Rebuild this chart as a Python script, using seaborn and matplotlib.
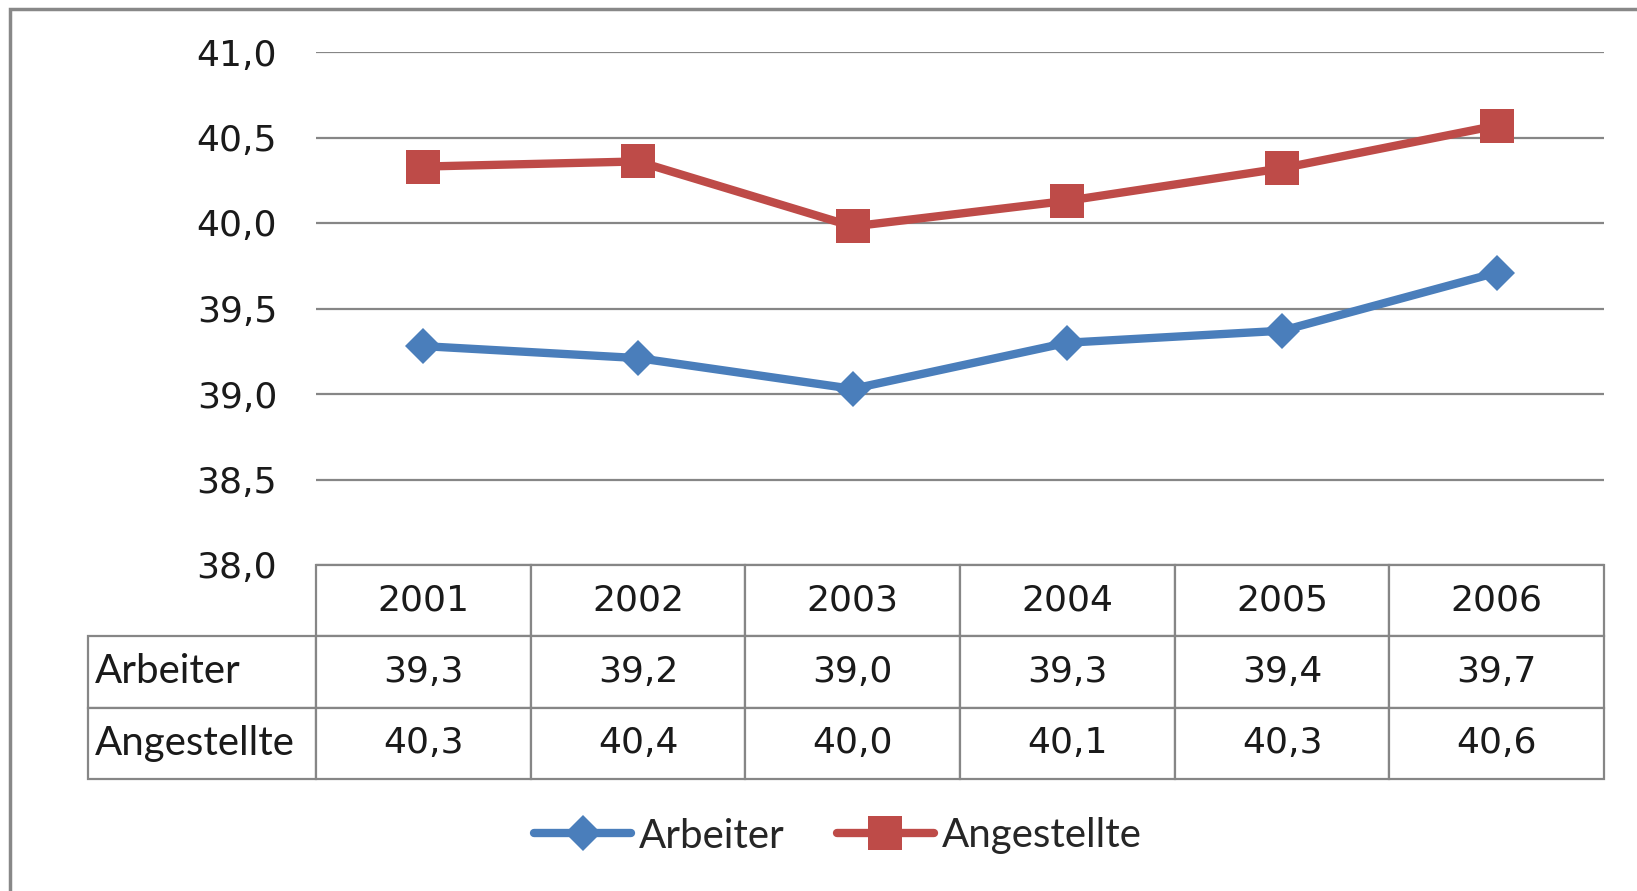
import matplotlib
matplotlib.use("Agg")
import matplotlib.pyplot as plt
import matplotlib.patches as mpatches
from matplotlib.ticker import FuncFormatter
import seaborn as sns
import pandas as pd

years = ["2001", "2002", "2003", "2004", "2005", "2006"]
arbeiter = [39.28, 39.21, 39.03, 39.30, 39.37, 39.71]
angestellte = [40.33, 40.36, 39.98, 40.13, 40.32, 40.57]
series_names = ["Arbeiter", "Angestellte"]
y_ticks = [38.0, 38.5, 39.0, 39.5, 40.0, 40.5, 41.0]

blue = "#4A7EBB"
red = "#BE4B48"
grid_col = "#868686"

sns.set_theme(style="white")
plt.rcParams["font.family"] = ["DejaVu Sans"]

fig = plt.figure(figsize=(16.37, 8.91), dpi=100)
fig.patch.set_facecolor("white")

ax = fig.add_axes([316/1637, (891-565)/891, 1288/1637, 513/891])

df = pd.DataFrame({"pos": list(range(len(years))) * 2,
                   "year": years * 2,
                   "value": arbeiter + angestellte,
                   "series": [series_names[0]] * len(years) + [series_names[1]] * len(years)})

sns.lineplot(data=df[df.series == "Arbeiter"], x="pos", y="value", ax=ax,
             color=blue, lw=6, marker="D", markersize=18, mec=blue, mew=0,
             label="Arbeiter", zorder=3)
sns.lineplot(data=df[df.series == "Angestellte"], x="pos", y="value", ax=ax,
             color=red, lw=6, marker="s", markersize=25, mec=red, mew=0,
             label="Angestellte", zorder=3)

ax.set_xlim(-0.5, len(years) - 0.5)
ax.set_ylim(38, 41)
ax.set_yticks(y_ticks)
ax.yaxis.set_major_formatter(FuncFormatter(lambda v, p: f"{v:.1f}".replace(".", ",")))
ax.tick_params(axis="y", labelsize=26, length=0, pad=28, colors="#1a1a1a")
ax.set_xticks([])
ax.set_xlabel("")
ax.set_ylabel("")
for s in ax.spines.values():
    s.set_visible(False)
ax.yaxis.grid(True, color=grid_col, lw=1.6)
ax.set_axisbelow(True)

# data table (first column holds the row labels)
fmt = lambda v: f"{v:.1f}".replace(".", ",")
cell_text = [[""] + years,
             [series_names[0]] + [fmt(v) for v in arbeiter],
             [series_names[1]] + [fmt(v) for v in angestellte]]
tbl = ax.table(cellText=cell_text, colWidths=[0.177] + [1/6] * 6,
               cellLoc="center", bbox=[-0.177, -0.417, 1.177, 0.417])
tbl.auto_set_font_size(False)
for (r, c), cell in tbl.get_celld().items():
    cell.set_edgecolor(grid_col)
    cell.set_linewidth(1.6)
    cell.set_facecolor("white")
    t = cell.get_text()
    t.set_fontsize(26)
    t.set_color("#1a1a1a")
    if c == 0:
        if r == 0:
            cell.visible_edges = ""
            cell.set_facecolor("none")
        t.set_fontfamily("Lato")
        t.set_fontsize(29)
        t.set_horizontalalignment("left")
        cell._loc = "left"
        cell.PAD = 0.03

# legend
h, l = ax.get_legend_handles_labels()
if ax.get_legend():
    ax.get_legend().remove()
leg = fig.legend(h, l, loc="center", bbox_to_anchor=(838/1637, (891-836)/891),
                 ncol=2, frameon=False, prop={"family": "Lato", "size": 29},
                 handlelength=2.4, handletextpad=0.2, columnspacing=1.3)

# outer chart border
fig.add_artist(mpatches.Rectangle((10/1637, -0.1), 1.2, (891-9)/891 + 0.1,
                                  transform=fig.transFigure, fill=False,
                                  edgecolor="#888888", lw=2.5))

fig.savefig("out.png", dpi=100)
